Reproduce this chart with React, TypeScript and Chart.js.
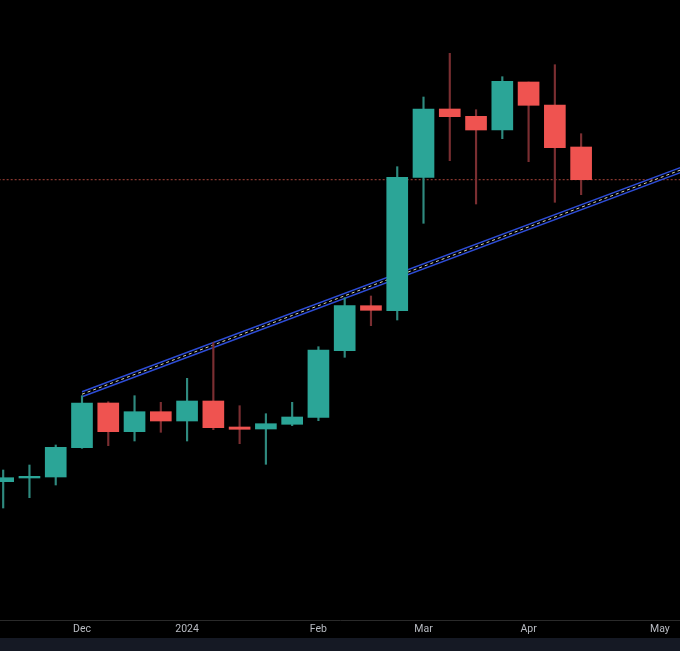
import { useEffect, useRef } from 'react';
import { Chart, registerables } from 'chart.js';

Chart.register(...registerables);

// Weekly candles (week start dates)
const weeks = [
  '2023-11-13', '2023-11-20', '2023-11-27', '2023-12-04', '2023-12-11', '2023-12-18',
  '2023-12-25', '2024-01-01', '2024-01-08', '2024-01-15', '2024-01-22', '2024-01-29',
  '2024-02-05', '2024-02-12', '2024-02-19', '2024-02-26', '2024-03-04', '2024-03-11',
  '2024-03-18', '2024-03-25', '2024-04-01', '2024-04-08', '2024-04-15',
];
const opens = [
  13.83, 14.2, 14.3, 17.23, 21.7, 18.83, 20.83, 19.9, 21.9, 19.3, 19.1, 19.57,
  20.27, 26.93, 31.43, 30.93, 44.27, 51.1, 50.37, 49.0, 53.8, 51.5, 47.3,
];
const highs = [
  15.0, 15.5, 17.5, 22.43, 21.83, 22.43, 21.77, 24.17, 27.73, 21.43, 20.63, 21.77,
  27.33, 32.23, 32.4, 45.33, 52.3, 56.67, 51.03, 54.33, 53.8, 55.53, 48.63,
];
const lows = [
  11.2, 12.23, 13.5, 17.17, 17.43, 17.9, 18.77, 17.9, 19.03, 17.63, 15.57, 19.43,
  19.93, 26.27, 29.43, 30.0, 39.67, 45.93, 41.6, 48.13, 45.83, 41.77, 42.53,
];
const closes = [
  14.23, 14.37, 17.27, 21.7, 18.83, 20.83, 19.9, 21.9, 19.23, 19.07, 19.63, 20.3,
  27.0, 31.43, 30.97, 44.27, 51.1, 50.33, 49.0, 53.87, 51.47, 47.23, 44.03,
];

// Axis tick labels at week indexes
const tickWeeks = [3, 7, 12, 16, 20, 25];
const tickLabels = ['Dec', '2024', 'Feb', 'Mar', 'Apr', 'May'];

// Trend line (week index, price)
const trendX = [3, 26];
const trendY = [22.58, 45.21];
const channelHalf = 0.25;

export default function App() {
  const ref = useRef<HTMLCanvasElement>(null);

  useEffect(() => {
    document.body.style.margin = '0';
    document.body.style.background = '#000';
    const canvas = ref.current;
    if (!canvas) return;

    const up = '#2ba597';
    const down = '#ef5350';
    const wickUp = '#2f8a7f';
    const wickDown = '#7a2e31';

    const isUp = weeks.map((_, i) => closes[i] >= opens[i]);
    const bodies = weeks.map((_, i) => ({ x: i, y: [opens[i], closes[i]] }));
    const wicks = weeks.map((_, i) => ({ x: i, y: [lows[i], highs[i]] }));
    const last = closes[closes.length - 1];

    const trend = (off: number) => trendX.map((x, i) => ({ x, y: trendY[i] + off }));

    const bg = {
      id: 'bg',
      beforeDraw(chart: any) {
        const { ctx, width, height, chartArea } = chart;
        ctx.save();
        ctx.fillStyle = '#000';
        ctx.fillRect(0, 0, width, height);
        ctx.fillStyle = '#151924';
        const top = chartArea.bottom + 18;
        ctx.fillRect(0, top, width, height - top);
        ctx.restore();
      },
    };

    const chart = new Chart(canvas, {
      type: 'bar',
      data: {
        datasets: [
          {
            type: 'line',
            data: [{ x: -2, y: last }, { x: 30, y: last }],
            borderColor: '#a8443a',
            borderWidth: 1,
            borderDash: [2, 2],
            pointRadius: 0,
            order: 6,
          } as any,
          {
            type: 'line',
            data: trend(channelHalf),
            borderColor: '#2d4cd6',
            borderWidth: 1.5,
            pointRadius: 0,
            order: 5,
          } as any,
          {
            type: 'line',
            data: trend(-channelHalf),
            borderColor: '#2d4cd6',
            borderWidth: 1.5,
            pointRadius: 0,
            order: 5,
          } as any,
          {
            type: 'line',
            data: trend(0),
            borderColor: '#d9d6b4',
            borderWidth: 1,
            borderDash: [3, 3],
            pointRadius: 0,
            order: 5,
          } as any,
          {
            type: 'bar',
            data: wicks,
            backgroundColor: isUp.map((u) => (u ? wickUp : wickDown)),
            barThickness: 1.5,
            grouped: false,
            order: 3,
          } as any,
          {
            type: 'bar',
            data: bodies,
            backgroundColor: isUp.map((u) => (u ? up : down)),
            barThickness: 21,
            grouped: false,
            order: 2,
          } as any,
        ],
      },
      options: {
        animation: false,
        responsive: false,
        maintainAspectRatio: false,
        layout: { padding: 0 },
        plugins: {
          legend: { display: false },
          tooltip: { enabled: false },
        },
        scales: {
          x: {
            type: 'linear',
            min: -0.1215,
            max: 25.764,
            offset: false,
            grid: { display: false, drawTicks: false },
            border: { display: true, color: '#2a2a2a' },
            ticks: {
              color: '#b8bbc2',
              font: { family: 'Roboto', size: 10.5 },
              padding: 3,
              autoSkip: false,
              maxRotation: 0,
              callback: (v: any) => {
                const k = tickWeeks.indexOf(Number(v));
                return k >= 0 ? tickLabels[k] : '';
              },
            },
            afterBuildTicks: (s: any) => {
              s.ticks = tickWeeks.map((value) => ({ value }));
            },
            afterFit: (s: any) => {
              s.height = 31;
            },
          },
          y: {
            display: false,
            min: 0,
            max: 62,
          },
        },
      } as any,
      plugins: [bg],
    });

    return () => chart.destroy();
  }, []);

  return (
    <div style={{ width: 680, height: 651, background: '#000' }}>
      <canvas ref={ref} width={680} height={651} style={{ display: 'block' }} />
    </div>
  );
}
